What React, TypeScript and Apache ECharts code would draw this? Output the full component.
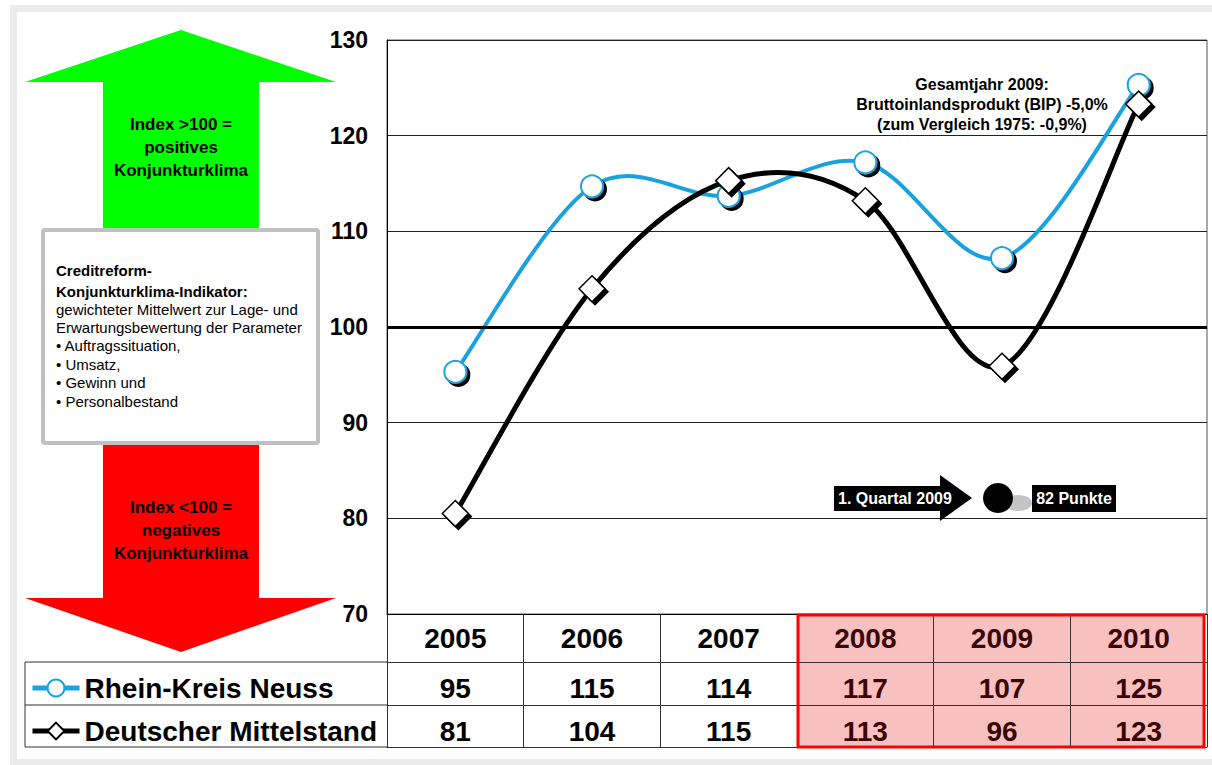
import React, { useEffect, useRef } from "react";
import * as echarts from "echarts";

// ---------- data ----------
const years = ["2005", "2006", "2007", "2008", "2009", "2010"];
const rheinKreisNeuss = [95.3, 114.7, 113.7, 117.2, 107.2, 125.3];
const deutscherMittelstand = [80.5, 104.0, 115.3, 113.2, 95.9, 123.3];
const seriesNames = ["Rhein-Kreis Neuss", "Deutscher Mittelstand"];
const yMin = 70;
const yMax = 130;
const yStep = 10;
const referenceLevel = 100;
const highlightedYears = ["2008", "2009", "2010"];
const upArrowLines = ["Index >100 =", "positives", "Konjunkturklima"];
const downArrowLines = ["Index <100 =", "negatives", "Konjunkturklima"];
const infoTitleLines = ["Creditreform-", "Konjunkturklima-Indikator:"];
const infoBodyLines = [
  "gewichteter Mittelwert zur Lage- und",
  "Erwartungsbewertung der Parameter",
  "\u2022 Auftragssituation,",
  "\u2022 Umsatz,",
  "\u2022 Gewinn und",
  "\u2022 Personalbestand",
];
const gdpNoteLines = [
  "Gesamtjahr 2009:",
  "Bruttoinlandsprodukt (BIP) -5,0%",
  "(zum Vergleich 1975: -0,9%)",
];
const quarterLabel = "1. Quartal 2009";
const quarterValue = "82 Punkte";

// ---------- layout ----------
const W = 1212;
const H = 765;
const FONT = "'Liberation Sans', Arial, sans-serif";
const BLUE = "#1aa2de";
const gridLeft = 387;
const gridRightX = 1207;
const gridTop = 40;
const gridBottomY = 614;
const headerH = 48;
const row1H = 43;
const row2H = 42;
const legendLeftX = 25;

// smoothed curve (Catmull-Rom through the data points, drawn via the axes' scales)
function curveSeries(values: number[], color: string, width: number, z: number) {
  const n = values.length;
  return {
    type: "custom",
    silent: true,
    z,
    data: values.map((v, i) => [i, v]),
    encode: { x: 0, y: 1 },
    renderItem: (params: any, api: any) => {
      const i = params.dataIndex;
      if (i >= n - 1) return { type: "group", children: [] };
      const P = (j: number) => {
        const k = Math.max(0, Math.min(n - 1, j));
        return api.coord([k, values[k]]);
      };
      const p0 = P(i - 1);
      const p1 = P(i);
      const p2 = P(i + 1);
      const p3 = P(i + 2);
      return {
        type: "bezierCurve",
        shape: {
          x1: p1[0],
          y1: p1[1],
          cpx1: p1[0] + (p2[0] - p0[0]) / 6,
          cpy1: p1[1] + (p2[1] - p0[1]) / 6,
          cpx2: p2[0] - (p3[0] - p1[0]) / 6,
          cpy2: p2[1] - (p3[1] - p1[1]) / 6,
          x2: p2[0],
          y2: p2[1],
        },
        style: { stroke: color, lineWidth: width, fill: "none", lineCap: "round" },
      };
    },
  };
}

export default function App() {
  const ref = useRef<HTMLDivElement>(null);

  useEffect(() => {
    if (!ref.current) return;
    const chart = echarts.init(ref.current, undefined, { renderer: "svg" });

    const colW = (gridRightX - gridLeft) / years.length;
    const firstHi = years.indexOf(highlightedYears[0]);
    const hiX0 = gridLeft + firstHi * colW;
    const tableBottom = gridBottomY + headerH + row1H + row2H;
    const hiSet = new Set(highlightedYears.map((y) => years.indexOf(y)));
    const labelColor = (_v: any, idx: number) => (hiSet.has(idx) ? "#3a0505" : "#000");

    const rheinTable = rheinKreisNeuss.map((v) => String(Math.round(v)));
    const deutschTable = deutscherMittelstand.map((v) => String(Math.round(v)));

    const tableLabel = (margin: number) => ({
      show: true,
      interval: 0,
      margin,
      fontSize: 28,
      fontWeight: "bold",
      fontFamily: FONT,
      lineHeight: 28,
      color: labelColor,
    });

    const lineCol = "#333";

    const graphic: any[] = [
      // outer frame
      {
        type: "rect",
        shape: { x: 13.5, y: 8.5, width: 1212, height: 754 },
        style: { fill: "none", stroke: "#ebebeb", lineWidth: 7 },
        z: -5,
      },
      // green arrow
      {
        type: "polygon",
        shape: {
          points: [
            [181, 30], [336, 82], [259, 82], [259, 232], [103, 232], [103, 82], [25, 82],
          ],
        },
        style: { fill: "#00ff00" },
      },
      // red arrow
      {
        type: "polygon",
        shape: {
          points: [
            [103, 441], [259, 441], [259, 598], [336, 598], [181, 652], [25, 598], [103, 598],
          ],
        },
        style: { fill: "#ff0000" },
      },
      {
        type: "text",
        x: 181,
        y: 147,
        style: {
          text: upArrowLines.join("\n"),
          align: "center",
          verticalAlign: "middle",
          fontSize: 17,
          fontWeight: "bold",
          fontFamily: FONT,
          lineHeight: 23,
          fill: "#000",
        },
      },
      {
        type: "text",
        x: 181,
        y: 530,
        style: {
          text: downArrowLines.join("\n"),
          align: "center",
          verticalAlign: "middle",
          fontSize: 17,
          fontWeight: "bold",
          fontFamily: FONT,
          lineHeight: 23,
          fill: "#000",
        },
      },
      // info box
      {
        type: "rect",
        shape: { x: 43, y: 230, width: 275, height: 213, r: 2 },
        style: { fill: "#fff", stroke: "#c0c0c0", lineWidth: 4 },
      },
      {
        type: "text",
        x: 56,
        y: 280.5,
        style: {
          text: infoTitleLines.join("\n"),
          align: "left",
          verticalAlign: "middle",
          fontSize: 15,
          fontWeight: "bold",
          fontFamily: FONT,
          lineHeight: 21,
          fill: "#000",
        },
      },
      {
        type: "text",
        x: 56,
        y: 355,
        style: {
          text: infoBodyLines.join("\n"),
          align: "left",
          verticalAlign: "middle",
          fontSize: 15,
          fontFamily: FONT,
          lineHeight: 18.4,
          fill: "#000",
        },
      },
      // legend area table lines
      ...[gridBottomY + headerH, gridBottomY + headerH + row1H, tableBottom].map((y) => ({
        type: "line",
        shape: { x1: legendLeftX, y1: y, x2: gridLeft, y2: y },
        style: { stroke: lineCol, lineWidth: 1 },
      })),
      {
        type: "line",
        shape: { x1: legendLeftX, y1: gridBottomY + headerH, x2: legendLeftX, y2: tableBottom },
        style: { stroke: lineCol, lineWidth: 1 },
      },
      // highlighted columns
      {
        type: "rect",
        shape: { x: hiX0, y: gridBottomY, width: gridRightX - hiX0 - 2, height: tableBottom - gridBottomY },
        style: { fill: "#f9c0c0" },
        z: -1,
      },
      {
        type: "rect",
        shape: { x: hiX0 + 1, y: gridBottomY + 1, width: gridRightX - hiX0 - 4, height: tableBottom - gridBottomY - 1 },
        style: { fill: "none", stroke: "#ff0000", lineWidth: 3 },
        z: 50,
      },
      // GDP note
      {
        type: "text",
        x: 982,
        y: 104,
        style: {
          text: gdpNoteLines.join("\n"),
          align: "center",
          verticalAlign: "middle",
          fontSize: 16,
          fontWeight: "bold",
          fontFamily: FONT,
          lineHeight: 20,
          fill: "#000",
        },
        z: 60,
      },
      // quarter annotation
      {
        type: "polygon",
        shape: {
          points: [[834, 486], [940, 486], [940, 475], [972, 498], [940, 521], [940, 511], [834, 511]],
        },
        style: { fill: "#000" },
        z: 60,
      },
      {
        type: "text",
        x: 838,
        y: 498.5,
        style: {
          text: quarterLabel,
          align: "left",
          verticalAlign: "middle",
          fontSize: 16,
          fontWeight: "bold",
          fontFamily: FONT,
          fill: "#fff",
        },
        z: 61,
      },
      {
        type: "ellipse",
        shape: { cx: 1018, cy: 503, rx: 14, ry: 8 },
        style: { fill: "#c4c4c4" },
        z: 60,
      },
      {
        type: "circle",
        shape: { cx: 998, cy: 498, r: 15 },
        style: { fill: "#000" },
        z: 61,
      },
      {
        type: "rect",
        shape: { x: 1032, y: 485, width: 84, height: 27 },
        style: { fill: "#000" },
        z: 61,
      },
      {
        type: "text",
        x: 1074,
        y: 498.5,
        style: {
          text: quarterValue,
          align: "center",
          verticalAlign: "middle",
          fontSize: 16,
          fontWeight: "bold",
          fontFamily: FONT,
          fill: "#fff",
        },
        z: 62,
      },
    ];

    const option: any = {
      animation: false,
      backgroundColor: "#fff",
      textStyle: { fontFamily: FONT },
      grid: {
        left: gridLeft,
        right: W - gridRightX,
        top: gridTop,
        bottom: H - gridBottomY,
        show: true,
        borderColor: "#555",
        borderWidth: 1,
        backgroundColor: "transparent",
        containLabel: false,
      },
      legend: {
        orient: "vertical",
        left: 25,
        top: 668,
        itemWidth: 47,
        itemHeight: 21,
        itemGap: 13,
        selectedMode: false,
        data: seriesNames,
        lineStyle: { width: 5, opacity: 1 },
        textStyle: {
          fontSize: 28,
          fontWeight: "bold",
          fontFamily: FONT,
          color: "#000",
          lineHeight: 30,
        },
      },
      xAxis: [
        {
          type: "category",
          data: years,
          position: "bottom",
          offset: 0,
          boundaryGap: true,
          axisLine: { show: true, lineStyle: { color: "#000", width: 1 } },
          axisTick: { show: true, interval: 0, length: headerH + row1H + row2H, lineStyle: { color: lineCol } },
          axisLabel: tableLabel(10),
          splitLine: { show: false },
        },
        {
          type: "category",
          data: rheinTable,
          position: "bottom",
          offset: headerH,
          axisLine: { show: true, lineStyle: { color: lineCol } },
          axisTick: { show: false },
          axisLabel: tableLabel(12),
        },
        {
          type: "category",
          data: deutschTable,
          position: "bottom",
          offset: headerH + row1H,
          axisLine: { show: true, lineStyle: { color: lineCol } },
          axisTick: { show: false },
          axisLabel: tableLabel(12),
        },
        {
          type: "category",
          data: years,
          position: "bottom",
          offset: headerH + row1H + row2H,
          axisLine: { show: true, lineStyle: { color: lineCol } },
          axisTick: { show: false },
          axisLabel: { show: false },
        },
      ],
      yAxis: {
        type: "value",
        min: yMin,
        max: yMax,
        interval: yStep,
        axisLine: { show: true, lineStyle: { color: "#000" } },
        axisTick: { show: false },
        axisLabel: {
          margin: 19,
          fontSize: 23,
          fontWeight: "bold",
          fontFamily: FONT,
          color: "#000",
        },
        splitLine: { show: true, lineStyle: { color: "#222", width: 1 } },
      },
      series: [
        curveSeries(rheinKreisNeuss, BLUE, 4, 2),
        {
          name: seriesNames[0],
          type: "line",
          data: rheinKreisNeuss,
          symbol: "circle",
          symbolSize: 22,
          lineStyle: { color: BLUE, width: 4, opacity: 0 },
          itemStyle: {
            color: "#fff",
            borderColor: BLUE,
            borderWidth: 2,
            shadowColor: "#000",
            shadowBlur: 1,
            shadowOffsetX: 3,
            shadowOffsetY: 3,
          },
          markLine: {
            silent: true,
            symbol: ["none", "none"],
            label: { show: false },
            lineStyle: { color: "#000", width: 3, type: "solid", opacity: 1 },
            data: [{ yAxis: referenceLevel }],
          },
          z: 3,
        },
        curveSeries(deutscherMittelstand, "#000", 5, 4),
        {
          name: seriesNames[1],
          type: "line",
          data: deutscherMittelstand,
          symbol: "diamond",
          symbolSize: 26,
          lineStyle: { color: "#000", width: 5, opacity: 0 },
          itemStyle: {
            color: "#fff",
            borderColor: "#000",
            borderWidth: 1.5,
            shadowColor: "#000",
            shadowBlur: 1,
            shadowOffsetX: 3,
            shadowOffsetY: 3,
          },
          z: 5,
        },
      ],
      graphic,
    };

    chart.setOption(option);
    return () => chart.dispose();
  }, []);

  return (
    <div
      ref={ref}
      style={{ position: "absolute", left: 0, top: 0, width: W, height: H }}
    />
  );
}
